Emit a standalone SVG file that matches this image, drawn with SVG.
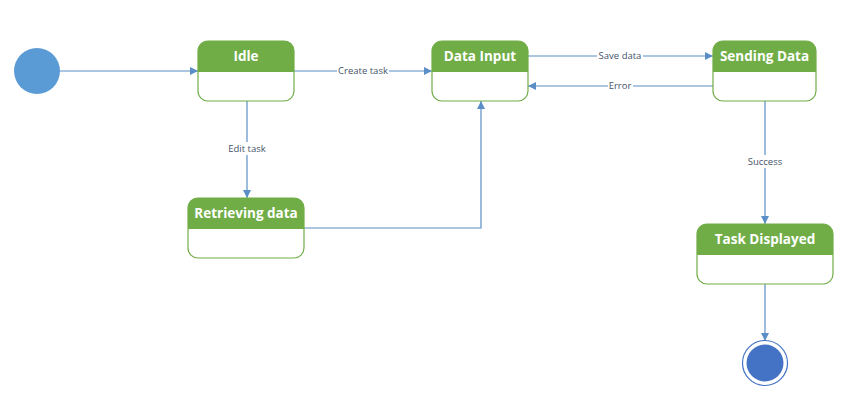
<svg xmlns="http://www.w3.org/2000/svg" width="851" height="413" viewBox="0 0 851 413">
<style>
.box{fill:#fff;stroke:#70AD47;stroke-width:1.2}
.hdr{fill:#70AD47}
.title{font-family:"Open Sans","Liberation Sans",sans-serif;font-weight:bold;font-size:13.5px;fill:#fff;text-anchor:middle}
.ln{fill:none;stroke:#5B8EC6;stroke-width:1.2}
.lbl{font-family:"Open Sans","Liberation Sans",sans-serif;font-size:9.5px;fill:#44546A;text-anchor:middle}
.bg{fill:#fff}
</style>
<defs>
<marker id="ah" markerWidth="10" markerHeight="10" refX="9" refY="5" orient="auto" markerUnits="userSpaceOnUse">
<path d="M1,1 L9,5 L1,9 Z" fill="#5B8EC6"/>
</marker>
</defs>
<rect width="851" height="413" fill="#fff"/>
<g id="connectors">
<path class="ln" d="M59,71 H198" marker-end="url(#ah)"/>
<path class="ln" d="M294,71 H432" marker-end="url(#ah)"/>
<rect class="bg" x="337" y="64" width="52" height="13"/>
<text class="lbl" x="363" y="74">Create task</text>
<path class="ln" d="M528,56 H713" marker-end="url(#ah)"/>
<rect class="bg" x="597" y="49" width="46" height="13"/>
<text class="lbl" x="620" y="59">Save data</text>
<path class="ln" d="M713,86 H528" marker-end="url(#ah)"/>
<rect class="bg" x="608" y="79" width="25" height="13"/>
<text class="lbl" x="620" y="89">Error</text>
<path class="ln" d="M247,101 V198" marker-end="url(#ah)"/>
<rect class="bg" x="225" y="142" width="44" height="13"/>
<text class="lbl" x="247" y="152">Edit task</text>
<path class="ln" d="M304,228 H481 V101" marker-end="url(#ah)"/>
<path class="ln" d="M765,101 V224" marker-end="url(#ah)"/>
<rect class="bg" x="745" y="155" width="40" height="13"/>
<text class="lbl" x="765" y="165">Success</text>
<path class="ln" d="M765,284 V341" marker-end="url(#ah)"/>
</g>
<g id="start">
<circle cx="37" cy="71" r="23" fill="#5B9BD5"/>
</g>
<g id="idle">
<rect class="box" x="198" y="41" width="96" height="60" rx="10"/>
<path class="hdr" d="M198,72 V51 A10,10 0 0 1 208,41 H284 A10,10 0 0 1 294,51 V72 Z"/>
<text class="title" x="246" y="61">Idle</text>
</g>
<g id="data-input">
<rect class="box" x="432" y="41" width="96" height="60" rx="10"/>
<path class="hdr" d="M432,72 V51 A10,10 0 0 1 442,41 H518 A10,10 0 0 1 528,51 V72 Z"/>
<text class="title" x="480" y="61">Data Input</text>
</g>
<g id="sending-data">
<rect class="box" x="713" y="41" width="103" height="60" rx="10"/>
<path class="hdr" d="M713,72 V51 A10,10 0 0 1 723,41 H806 A10,10 0 0 1 816,51 V72 Z"/>
<text class="title" x="764.5" y="61">Sending Data</text>
</g>
<g id="retrieving-data">
<rect class="box" x="188" y="198" width="116" height="60" rx="10"/>
<path class="hdr" d="M188,229 V208 A10,10 0 0 1 198,198 H294 A10,10 0 0 1 304,208 V229 Z"/>
<text class="title" x="246" y="218">Retrieving data</text>
</g>
<g id="task-displayed">
<rect class="box" x="697" y="224" width="136" height="60" rx="10"/>
<path class="hdr" d="M697,255 V234 A10,10 0 0 1 707,224 H823 A10,10 0 0 1 833,234 V255 Z"/>
<text class="title" x="765" y="244">Task Displayed</text>
</g>
<g id="end">
<circle cx="765" cy="363" r="22.5" fill="#fff" stroke="#4472C4" stroke-width="1.2"/>
<circle cx="765" cy="363" r="18.5" fill="#4472C4"/>
</g>
</svg>
